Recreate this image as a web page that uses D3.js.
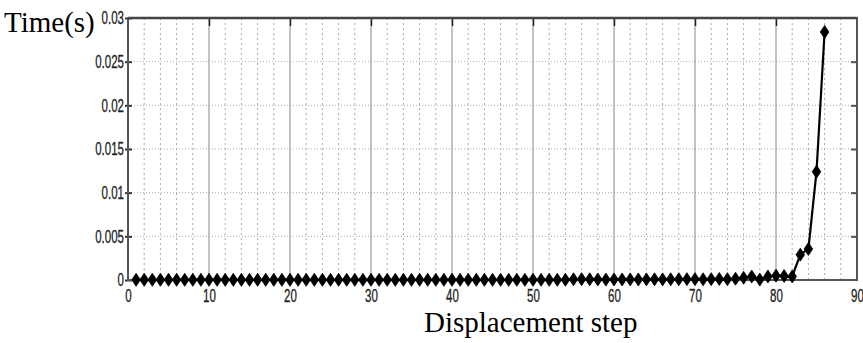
<!DOCTYPE html>
<html>
<head>
<meta charset="utf-8">
<script src="https://cdn.jsdelivr.net/npm/d3@7"></script>
<style>
  body { margin: 0; background: #fff; }
  svg { display: block; }
</style>
</head>
<body>
<div id="root"></div>
<script>
// displacement steps 1..86 and time per step
const steps = d3.range(1, 87);
const times = [
  0.00002, 0.00002, 0.00002, 0.00002, 0.00002, 0.00002, 0.00002, 0.00002, 0.00002, 0.00002,
  0.00002, 0.00002, 0.00002, 0.00002, 0.00002, 0.00002, 0.00002, 0.00002, 0.00002, 0.00002,
  0.00002, 0.00002, 0.00002, 0.00002, 0.00002, 0.00002, 0.00002, 0.00002, 0.00002, 0.00002,
  0.00002, 0.00002, 0.00002, 0.00002, 0.00002, 0.00002, 0.00002, 0.00002, 0.00002, 0.00002,
  0.00002, 0.00002, 0.00002, 0.00002, 0.00002, 0.00002, 0.00002, 0.00002, 0.00002, 0.00002,
  0.00002, 0.00002, 0.00002, 0.00003, 0.00008, 0.00010, 0.00008, 0.00006, 0.00005, 0.00006,
  0.00006, 0.00007, 0.00006, 0.00007, 0.00008, 0.00007, 0.00008, 0.00009, 0.00010, 0.00010,
  0.00008, 0.00010, 0.00012, 0.00010, 0.00015, 0.00025, 0.00040, 0.00005, 0.00040, 0.00050,
  0.00045, 0.00040, 0.00290, 0.00355, 0.01240, 0.02840
];
const xTicks = [0, 10, 20, 30, 40, 50, 60, 70, 80, 90];
const yTicks = [0, 0.005, 0.01, 0.015, 0.02, 0.025, 0.03];
const yTickLabels = ["0", "0.005", "0.01", "0.015", "0.02", "0.025", "0.03"];
const xMinor = [2, 4, 6, 8, 12, 14, 16, 18, 22, 24, 26, 28, 32, 34, 36, 38, 42, 44, 46, 48,
  52, 54, 56, 58, 62, 64, 66, 68, 72, 74, 76, 78, 82, 84, 86, 88];

const W = 863, H = 343;
const m = { left: 128, right: 6, top: 18, bottom: 63 };

const svg = d3.select("#root").append("svg")
  .attr("width", W)
  .attr("height", H);

const x = d3.scaleLinear().domain([0, 90]).range([m.left, W - m.right]);
const y = d3.scaleLinear().domain([0, 0.03]).range([H - m.bottom, m.top]);

const squeeze = 0.64;
const tickFont = "Liberation Sans, Arial, sans-serif";

// grid
const grid = svg.append("g");
grid.selectAll(".minor").data(xMinor).enter().append("line")
  .attr("x1", d => x(d)).attr("x2", d => x(d))
  .attr("y1", y(0)).attr("y2", y(0.03))
  .attr("stroke", "#aaa").attr("stroke-width", 1)
  .attr("stroke-dasharray", "2,3");
grid.selectAll(".hgrid").data(yTicks.slice(1, -1)).enter().append("line")
  .attr("x1", x(0)).attr("x2", x(90))
  .attr("y1", d => y(d)).attr("y2", d => y(d))
  .attr("stroke", "#aaa").attr("stroke-width", 1)
  .attr("stroke-dasharray", "1,2");
grid.selectAll(".major").data(xTicks.slice(1, -1)).enter().append("line")
  .attr("x1", d => x(d)).attr("x2", d => x(d))
  .attr("y1", y(0)).attr("y2", y(0.03))
  .attr("stroke", "#999").attr("stroke-width", 1.2);

// axes
const xAxis = svg.append("g")
  .attr("transform", `translate(0,${y(0)})`)
  .call(d3.axisBottom(x).tickValues(xTicks).tickSize(0).tickPadding(9));
xAxis.select(".domain").remove();
xAxis.selectAll("text")
  .attr("font-family", tickFont).attr("font-size", 18).attr("fill", "#222")
  .attr("stroke", "#222").attr("stroke-width", 0.3)
  .attr("transform", `scale(${squeeze},1)`);

const yAxis = svg.append("g")
  .attr("transform", `translate(${x(0)},0)`)
  .call(d3.axisLeft(y).tickValues(yTicks).tickFormat((d, i) => yTickLabels[i])
    .tickSizeInner(-4).tickSizeOuter(0).tickPadding(0));
yAxis.select(".domain").remove();
yAxis.selectAll("line").attr("stroke", "#333").attr("stroke-width", 2)
  .attr("x1", -3).attr("x2", 4);
yAxis.selectAll("text")
  .attr("font-family", tickFont).attr("font-size", 18).attr("fill", "#222")
  .attr("stroke", "#222").attr("stroke-width", 0.3)
  .attr("x", -4 / squeeze)
  .attr("transform", `scale(${squeeze},1)`);

const yRight = svg.append("g")
  .attr("transform", `translate(${x(90)},0)`)
  .call(d3.axisRight(y).tickValues(yTicks.slice(1, -1)).tickSizeInner(-6).tickSizeOuter(0).tickFormat(""));
yRight.select(".domain").remove();
yRight.selectAll("line").attr("stroke", "#555").attr("stroke-width", 2);

const xTop = svg.append("g")
  .attr("transform", `translate(0,${y(0.03)})`)
  .call(d3.axisTop(x).tickValues(xTicks.slice(1, -1)).tickSizeInner(-8).tickSizeOuter(0).tickFormat(""));
xTop.select(".domain").remove();
xTop.selectAll("line").attr("stroke", "#222").attr("stroke-width", 1.5);

// frame
svg.append("rect")
  .attr("x", x(0)).attr("y", y(0.03))
  .attr("width", x(90) - x(0)).attr("height", y(0) - y(0.03))
  .attr("fill", "none").attr("stroke", "#555").attr("stroke-width", 2);
svg.append("line")
  .attr("x1", x(0)).attr("x2", x(90)).attr("y1", y(0.03)).attr("y2", y(0.03))
  .attr("stroke", "#444").attr("stroke-width", 2.5);

// series
const pts = steps.map((s, i) => [s, times[i]]);
svg.append("path")
  .datum(pts)
  .attr("d", d3.line().x(d => x(d[0])).y(d => y(d[1])))
  .attr("fill", "none").attr("stroke", "#000").attr("stroke-width", 2.2);

const dw = 4.3, dh = 6.5;
svg.selectAll(".mk").data(pts).enter().append("path")
  .attr("transform", d => `translate(${x(d[0])},${y(d[1])})`)
  .attr("d", `M0,${-dh}L${dw},0L0,${dh}L${-dw},0Z`)
  .attr("fill", "#000")
  .attr("stroke", "#000").attr("stroke-width", 0.8).attr("stroke-linejoin", "round");

// titles
svg.append("text")
  .attr("x", 4).attr("y", 32)
  .attr("font-family", "Liberation Serif, Times New Roman, serif")
  .attr("font-size", 29).attr("fill", "#000")
  .text("Time(s)");
svg.append("text")
  .attr("x", 424).attr("y", 332)
  .attr("font-family", "Liberation Serif, Times New Roman, serif")
  .attr("font-size", 29).attr("fill", "#000")
  .text("Displacement step");
</script>
</body>
</html>
